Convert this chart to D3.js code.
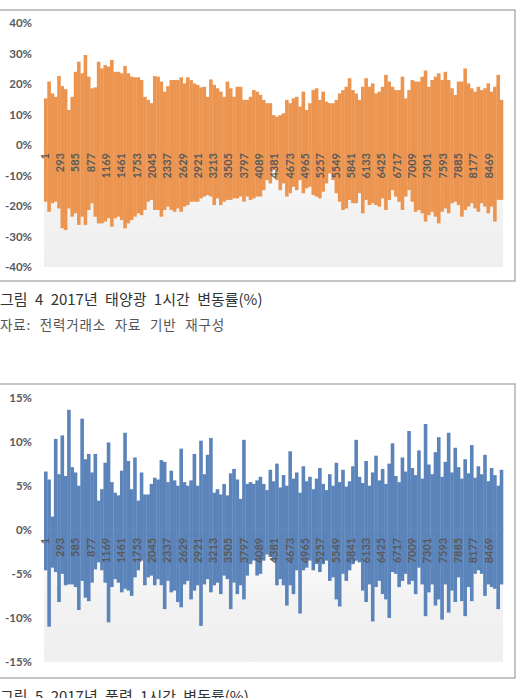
<!DOCTYPE html>
<html>
<head>
<meta charset="utf-8">
<script src="https://cdn.jsdelivr.net/npm/d3@7"></script>
<style>
body { margin: 0; background: #fff; }
</style>
</head>
<body>
<div id="my_dataviz"></div>
<script>
var xTickLabels = [1, 293, 585, 877, 1169, 1461, 1753, 2045, 2337, 2629, 2921, 3213, 3505, 3797, 4089,
  4381, 4673, 4965, 5257, 5549, 5841, 6133, 6425, 6717, 7009, 7301, 7593, 7885, 8177, 8469];
var hoursTotal = 8760;

var solarTicks = [40, 30, 20, 10, 0, -10, -20, -30, -40];
var windTicks = [15, 10, 5, 0, -5, -10, -15];

var solarUp = [15.3, 20.8, 16.9, 15.8, 22.6, 19.3, 18.3, 11.5, 15.8, 24, 27.3, 23.5, 29.5, 22.4, 18.6, 18.9,
  27.3, 25.1, 26.2, 25.7, 27.9, 24, 24, 23.5, 25.9, 23.5, 22.4, 22.2, 22.2, 21.3, 15.8, 14.8, 13.7, 22.6,
  22.4, 20.8, 17.5, 19.3, 21.3, 21.3, 21.3, 22.2, 20.2, 22.2, 21.3, 20.2, 19.7, 18.9, 19.1, 15.8, 21.5,
  19.7, 18.6, 17.5, 15.8, 20.8, 18.6, 15.8, 19.1, 19.1, 14.8, 14.8, 15.8, 18, 17.5,
  16.4, 14.8, 13.7, 13.7, 9.8, 9.3, 9.8, 10.4, 14.8, 13.7, 15.3, 15.8, 12.6, 17.5, 11.5, 13.7, 18, 18.6,
  14.8, 17.5, 14.2, 13.7, 13.7, 14.8, 16.9, 18, 19.1, 21.9, 18, 16.9, 14.8, 19.1, 21.9, 19.1, 20.2, 16.9,
  17.5, 19.1, 23, 20.8, 19.1, 18, 18, 22.4, 15.3, 18, 21.3, 20.8, 20.8, 22.4, 24.4, 19.1, 21.3, 22.4, 23.5,
  21.3, 24, 21.3, 18.6, 16.4, 20.8, 20.8, 25.1, 20.2, 18.6, 17.5, 19.1, 18, 18.6, 20.2, 17.5, 19.1, 23, 14.8];

var solarDown = [-18.6, -21.9, -19.1, -18.6, -20.8, -27.3, -27.9, -20.8, -23.5, -22.4, -26.2, -23.5, -26.2,
  -21.3, -19.1, -23.5, -25.7, -25.7, -25.1, -24, -26.8, -24, -23.5, -24.6, -27.3, -25.7, -24.6, -23.5,
  -22.4, -23, -21.3, -18.6, -18, -21.3, -21.3, -23.5, -21.3, -20.2, -21.3, -21.9, -20.8, -21.9, -20.2,
  -19.7, -18.6, -18.6, -18.6, -17.5, -16.9, -16.4, -16.9, -19.7, -17.5, -19.7, -18.6, -18, -18, -17.5,
  -17.5, -16.9, -18.6, -16.9, -18, -17.5, -16.9,
  -16.9, -14.8, -11.5, -12.6, -8.2, -11.5, -14.8, -12.6, -16.9, -15.8, -13.7, -14.8, -11.5, -15.8, -14.2,
  -13.7, -16.4, -16.9, -17.5, -15.3, -12.6, -9.3, -11.5, -15.8, -18.6, -21.3, -20.8, -18, -19.1, -19.1,
  -15.8, -22.4, -18, -19.7, -19.1, -19.7, -20.2, -17.5, -21.3, -18, -14.8, -16.9, -18.6, -21.3, -16.9,
  -14.8, -18.6, -21.9, -21.3, -22.4, -25.1, -23, -21.9, -23.5, -25.7, -21.9, -20.8, -22.4, -19.1, -18.6,
  -19.7, -23.5, -21.3, -20.2, -19.1, -20.8, -21.9, -19.1, -20.2, -22.4, -20.2, -25.1, -18, -18];

var windUp = [6.6, 5.7, 1.5, 10.3, 6.3, 10.7, 6.1, 13.6, 7.1, 6.5, 5, 12.6, 8, 8.6, 6.5, 8.6, 3.3, 4.6, 7.6,
  9.9, 5.4, 4.2, 3.9, 6.7, 11, 7.8, 4.6, 8.2, 3.3, 6.5, 4, 4, 5.2, 5.9, 5.7, 7.9, 7.7, 5.4, 6.7, 5.6, 5,
  9.2, 5.4, 5, 5.6, 8.6, 5, 10.1, 6.3, 8.5, 10.4, 4.2, 4.6, 4, 5.2, 3.9, 6.4, 6.9, 5.7, 3.5, 10.2, 5.2,
  5.4, 5.2, 5.6,
  6.0, 5.2, 4.5, 6.8, 5.5, 7.5, 4.8, 6.2, 5.0, 8.9, 5.8, 6.5, 4.2, 7.2, 5.5, 6.0, 4.6, 5.8, 7.0, 5.2, 4.5,
  6.3, 5.0, 7.6, 5.4, 6.8, 4.9, 5.5, 7.2, 10.2, 6.0, 5.3, 7.8, 5.0, 6.5, 8.4, 5.6, 6.9, 5.2, 7.5, 9.8, 6.1,
  5.4, 8.2, 6.6, 11.2, 7.0, 6.2, 9.0, 5.8, 12.0, 7.4, 6.3, 8.8, 10.5, 6.0, 7.7, 11.0, 6.5, 9.3, 7.1, 5.8,
  8.0, 6.4, 9.6, 5.9, 7.2, 6.3, 8.5, 5.5, 7.0, 6.2, 5.0, 6.8];

var windDown = [-4.6, -11, -4.3, -4.8, -8.2, -5, -6.3, -6.2, -6.2, -6.5, -9.1, -5.8, -7.7, -8.1, -6, -4.5,
  -3.7, -4.6, -6, -10.5, -6.5, -5.6, -6, -7.1, -6.7, -6.9, -7.5, -5.4, -4.6, -3.5, -6.3, -5.4, -5.2, -6.3,
  -5.6, -6.3, -9, -5.8, -7.1, -6.9, -8.2, -8.8, -6.2, -5.8, -7.9, -6.9, -6.3, -10.9, -6.2, -5.6, -7.1,
  -6.3, -6, -7.3, -5.2, -5.6, -9, -6, -7.3, -6.3, -7.9, -5.2, -3.9, -3.5, -5.2,
  -5, -3.5, -2.8, -3.1, -3.5, -6.3, -5.6, -6.3, -8.6, -6.3, -7.3, -4.6, -9.5, -4.6, -4.3, -3.5, -4.6,
  -3.9, -4.8, -3.9, -3.5, -5.8, -5.4, -7.9, -8.7, -5, -5.8, -4.6, -3.9, -3.5, -3.7, -6.9, -8.2, -6.2,
  -10.4, -6.5, -5.8, -7.3, -7.9, -10, -4.8, -5, -6.5, -5.8, -5, -6.2, -5.8, -7.3, -4.3, -6.2, -9.8, -7.1,
  -6.2, -8.6, -7.9, -10.2, -6.2, -9.4, -6.9, -8.2, -5.4, -8.1, -9.8, -6.5, -8.1, -5, -4.6, -5, -7.5,
  -6.2, -6.5, -6.7, -9, -6.2];

// * LAYOUT
var width = 521, height = 698;
var tickFont = "Lato, 'Open Sans', sans-serif";
var korFont = "'Noto Sans CJK KR', sans-serif";

var svg = d3.select("#my_dataviz")
.append("svg")
.attr("width", width)
.attr("height", height)

var defs = svg.append("defs")
var grad = defs.append("linearGradient")
.attr("id", "plotBg")
.attr("x1", 0).attr("y1", 0).attr("x2", 0).attr("y2", 1)
grad.append("stop").attr("offset", "0%").attr("stop-color", "#ffffff")
grad.append("stop").attr("offset", "50%").attr("stop-color", "#ffffff")
grad.append("stop").attr("offset", "78%").attr("stop-color", "#f2f2f2")
grad.append("stop").attr("offset", "100%").attr("stop-color", "#efefef")

function Chart(cfg) {
    var g = svg.append("g")

    // outer frame (left side runs off the page)
    g.append("rect")
    .attr("x", -3)
    .attr("y", cfg.frameTop)
    .attr("width", 518)
    .attr("height", cfg.frameBottom - cfg.frameTop)
    .attr("fill", "#fff")
    .attr("stroke", "#a6a6a6")
    .attr("stroke-width", 1.3)

    var y = d3.scaleLinear()
    .domain(cfg.yDomain)
    .range([cfg.plotBottom, cfg.plotTop])

    // hour axis used for the tick labels
    var x = d3.scaleLinear()
    .domain([1, hoursTotal])
    .range([cfg.plotLeft, cfg.plotRight])

    g.append("rect")
    .attr("x", cfg.plotLeft)
    .attr("y", cfg.plotTop)
    .attr("width", cfg.plotRight - cfg.plotLeft)
    .attr("height", cfg.plotBottom - cfg.plotTop)
    .attr("fill", "url(#plotBg)")

    var xUp = d3.scaleBand()
    .domain(d3.range(cfg.up.length))
    .range([cfg.plotLeft, cfg.plotRight])
    .padding(0)
    var xDown = d3.scaleBand()
    .domain(d3.range(cfg.down.length))
    .range([cfg.plotLeft, cfg.plotRight])
    .padding(0)

    g.append("g")
    .selectAll("rect")
    .data(cfg.up)
    .enter()
    .append("rect")
    .attr("x", function(d, i){ return xUp(i) })
    .attr("width", xUp.bandwidth() + 0.3)
    .attr("y", function(d){ return y(d) })
    .attr("height", function(d){ return y(0) - y(d) })
    .attr("fill", cfg.color)

    g.append("g")
    .selectAll("rect")
    .data(cfg.down)
    .enter()
    .append("rect")
    .attr("x", function(d, i){ return xDown(i) })
    .attr("width", xDown.bandwidth() + 0.3)
    .attr("y", y(0) - 0.5)
    .attr("height", function(d){ return y(d) - y(0) + 0.5 })
    .attr("fill", cfg.color)

    // y axis labels
    var yAxis = d3.axisLeft(y)
    .tickValues(cfg.ticks)
    .tickSize(0)
    .tickPadding(0)
    .tickFormat(function(d){ return d + "%" })
    var YAXIS = g.append("g")
    .attr("transform", "translate(" + cfg.labelRight + ",0)")
    .call(yAxis)
    YAXIS.select(".domain").remove()
    YAXIS.selectAll("text")
    .attr("font-family", tickFont)
    .attr("font-weight", "bold")
    .attr("font-size", 11.5)
    .attr("fill", "#595959")

    // rotated hour labels just under the zero line
    g.append("g")
    .selectAll("text")
    .data(xTickLabels)
    .enter()
    .append("text")
    .attr("transform", function(d){ return "translate(" + (x(d) + 1) + "," + (y(0) + 8) + ") rotate(-90)" })
    .attr("dy", "0.35em")
    .attr("text-anchor", "end")
    .attr("font-family", tickFont)
    .attr("font-weight", "bold")
    .attr("font-size", 11)
    .attr("fill", "#595959")
    .text(function(d){ return d })
}

Chart({
    frameTop: 10, frameBottom: 281,
    plotLeft: 44, plotRight: 503, plotTop: 23, plotBottom: 267, labelRight: 32,
    yDomain: [-40, 40], ticks: solarTicks,
    up: solarUp, down: solarDown, color: "#ec9550"
})

Chart({
    frameTop: 384, frameBottom: 678,
    plotLeft: 44, plotRight: 503, plotTop: 397.5, plotBottom: 662, labelRight: 32,
    yDomain: [-15, 15], ticks: windTicks,
    up: windUp, down: windDown, color: "#5b84bb"
})

// captions (the last one is cut by the page edge, as in the scan)
svg.append("text")
.attr("x", 0).attr("y", 305)
.attr("font-family", korFont)
.attr("font-size", 15)
.attr("fill", "#333")
.attr("word-spacing", 4)
.text("그림 4 2017년 태양광 1시간 변동률(%)")

svg.append("text")
.attr("x", 0).attr("y", 330)
.attr("font-family", korFont)
.attr("font-size", 13.5)
.attr("fill", "#555")
.attr("letter-spacing", 0.8)
.attr("word-spacing", 5)
.text("자료: 전력거래소 자료 기반 재구성")

svg.append("text")
.attr("x", 0).attr("y", 702)
.attr("font-family", korFont)
.attr("font-size", 15)
.attr("fill", "#333")
.attr("word-spacing", 4)
.text("그림 5 2017년 풍력 1시간 변동률(%)")
</script>
</body>
</html>
